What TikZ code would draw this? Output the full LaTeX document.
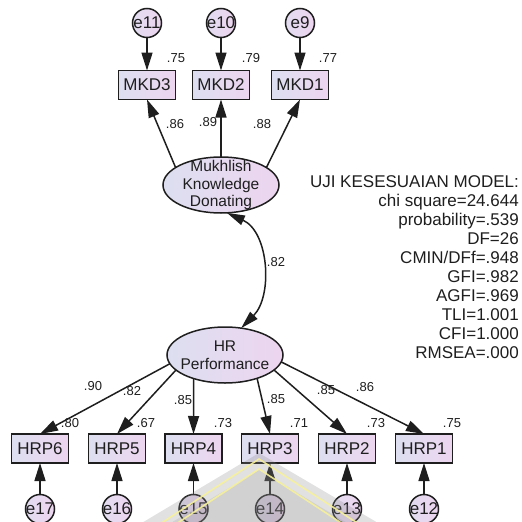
\documentclass[tikz,border=0pt]{standalone}
\usepackage{fontspec}
\setmainfont{Liberation Sans}
\usetikzlibrary{arrows.meta,shapes.geometric}

\definecolor{ink}{HTML}{1E1E1E}
\definecolor{fillL}{HTML}{DDDFF1}
\definecolor{fillR}{HTML}{EDD5EF}
\definecolor{wmgray}{HTML}{8A8A8A}
\definecolor{wmyellow}{HTML}{F6F19A}

\tikzset{
  obs/.style={draw=ink, line width=1.5pt, rectangle, minimum width=57pt,
    minimum height=29pt, inner sep=0pt, outer sep=0pt,
    left color=fillL, right color=fillR, text=ink,
    font=\fontsize{17}{17}\selectfont},
  latent/.style={draw=ink, line width=1.5pt, ellipse, minimum width=116pt,
    minimum height=56pt, inner sep=-8pt, outer sep=0pt,
    left color=fillL, right color=fillR, text=ink, align=center,
    font=\fontsize{15.5}{17.5}\selectfont},
  err/.style={draw=ink, line width=1.5pt, circle, minimum size=29pt,
    inner sep=-5pt, outer sep=0pt, left color=fillL!70!fillR, right color=fillR,
    text=ink, font=\fontsize{17}{17}\selectfont},
  coef/.style={text=ink, font=\fontsize{13}{13}\selectfont, inner sep=0pt},
  reg/.style={draw=ink, line width=1.5pt, -{Triangle[length=18pt,width=11pt]}},
  cov/.style={draw=ink, line width=1.5pt,
    {Triangle[length=18pt,width=10pt]}-{Triangle[length=18pt,width=10pt]}},
  fitline/.style={text=ink, inner sep=0pt, anchor=base east,
    font=\fontsize{17}{17}\selectfont},
}

\begin{document}
\begin{tikzpicture}[x=1pt,y=-1pt]
\useasboundingbox (0,0) rectangle (522,522);

% latent variables
\node[latent] (mkd) at (221,185) {Mukhlish\\Knowledge\\Donating};
\node[latent] (hr) at (225,355) {HR\\Performance};

% indicators of Mukhlish Knowledge Donating
\node[obs] (mkd3) at (147,85) {MKD3};
\node[obs] (mkd2) at (221,85) {MKD2};
\node[obs] (mkd1) at (300,85) {MKD1};
\node[err] (e11) at (147,23) {e11};
\node[err] (e10) at (221,23) {e10};
\node[err] (e9)  at (300,23) {e9};

% indicators of HR Performance
\node[obs] (hrp6) at (40,448.5)  {HRP6};
\node[obs] (hrp5) at (117,448.5) {HRP5};
\node[obs] (hrp4) at (193.5,448.5) {HRP4};
\node[obs] (hrp3) at (270,448.5) {HRP3};
\node[obs] (hrp2) at (347,448.5) {HRP2};
\node[obs] (hrp1) at (424,448.5) {HRP1};
\node[err] (e17) at (40,509)  {e17};
\node[err] (e16) at (117,509) {e16};
\node[err] (e15) at (193.5,509) {e15};
\node[err] (e14) at (270,509) {e14};
\node[err] (e13) at (347,509) {e13};
\node[err] (e12) at (424,509) {e12};

% squared multiple correlations
\node[coef] (r2mkd3) at (176,58) {.75};
\node[coef] (r2mkd2) at (251,58) {.79};
\node[coef] (r2mkd1) at (328,58) {.77};
\node[coef] (r2hrp6) at (70,423)  {.80};
\node[coef] (r2hrp5) at (146,423) {.67};
\node[coef] (r2hrp4) at (223,423) {.73};
\node[coef] (r2hrp3) at (299,423) {.71};
\node[coef] (r2hrp2) at (376,423) {.73};
\node[coef] (r2hrp1) at (452,423) {.75};

% standardized loadings
\node[coef] (lmkd3) at (175,124) {.86};
\node[coef] (lmkd2) at (208,122) {.89};
\node[coef] (lmkd1) at (262,124) {.88};
\node[coef] (lhrp6) at (93,386)  {.90};
\node[coef] (lhrp5) at (132,391) {.82};
\node[coef] (lhrp4) at (183,400) {.85};
\node[coef] (lhrp3) at (276,399) {.85};
\node[coef] (lhrp2) at (326,390) {.85};
\node[coef] (lhrp1) at (365,387) {.86};
\node[coef] (lcov)  at (276,262) {.82};

% error terms
\draw[reg] (e11) -- (mkd3);
\draw[reg] (e10) -- (mkd2);
\draw[reg] (e9)  -- (mkd1);
\draw[reg] (e17) -- (hrp6);
\draw[reg] (e16) -- (hrp5);
\draw[reg] (e15) -- (hrp4);
\draw[reg] (e14) -- (hrp3);
\draw[reg] (e13) -- (hrp2);
\draw[reg] (e12) -- (hrp1);

% loadings
\draw[reg] (mkd.159) -- (mkd3.south);
\draw[reg] (mkd.north) -- (mkd2.south);
\draw[reg] (mkd.21)  -- (mkd1.south);
\draw[reg] (hr.189)  -- (hrp6.north);
\draw[reg] (hr.197)  -- (hrp5.north);
\draw[reg] (hr.-143) -- (hrp4.north);
\draw[reg] (hr.-36)  -- (hrp3.north);
\draw[reg] (hr.-17)  -- (hrp2.north);
\draw[reg] (hr.-7)   -- (hrp1.north);

% correlation between the latent variables
\draw[cov] (mkd.-78) .. controls (269,232) and (273,296) .. (hr.59);

% model fit summary, one right-aligned line each
\foreach \txt [count=\i] in {UJI KESESUAIAN MODEL:, chi square=24.644,
    probability=.539, DF=26, CMIN/DFf=.948, GFI=.982, AGFI=.969,
    TLI=1.001, CFI=1.000, RMSEA=.000}
  \node[fitline] (fit\i) at (519,{187+19.1*(\i-1)}) {\txt};

% faint logo in the lower margin
\begin{scope}
  \clip (0,0) rectangle (522,522);
  \fill[wmgray, fill opacity=0.26] (259,453) -- (130,530) -- (390,530) -- cycle;
  \fill[wmgray, fill opacity=0.18] (259,470) -- (159,530) -- (359,530) -- cycle;
  \draw[wmyellow, line width=1.6pt, opacity=0.9] (151,530) -- (259,459) -- (368,530);
  \draw[wmyellow, line width=1.6pt, opacity=0.9] (167,530) -- (259,469) -- (352,530);
\end{scope}
\end{tikzpicture}
\end{document}
